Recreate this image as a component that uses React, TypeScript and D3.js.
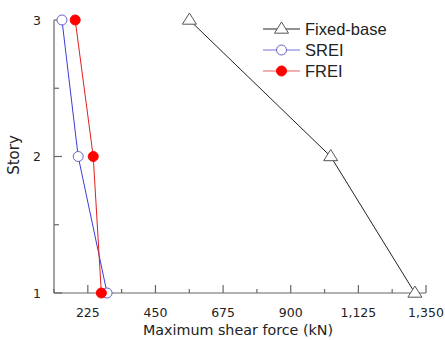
import React from 'react';
import * as d3 from 'd3';

const stories = [1, 2, 3];
const fixedBase = [1313, 1033, 563];
const srei = [289, 193, 139];
const frei = [270, 243, 183];
const xTicks = [225, 450, 675, 900, 1125, 1350];
const xMinorTicks = [112.5, 337.5, 562.5, 787.5, 1012.5, 1237.5];
const yTicks = [1, 2, 3];
const yMinorTicks = [1.5, 2.5];

const W = 445;
const H = 340;
const margin = { left: 54, right: 19, top: 20, bottom: 47 };

export default function App() {
  const x = d3.scaleLinear().domain([112.5, 1350]).range([margin.left, W - margin.right]);
  const y = d3.scaleLinear().domain([1, 3]).range([H - margin.bottom, margin.top]);
  const line = d3.line<[number, number]>().x(d => x(d[0])).y(d => y(d[1]));

  const series = [
    { name: 'Fixed-base', values: fixedBase, color: '#222', marker: 'tri' },
    { name: 'SREI', values: srei, color: '#3b3bd6', marker: 'open' },
    { name: 'FREI', values: frei, color: '#e0201e', marker: 'fill' },
  ];

  const axisColor = '#666';
  const axisFont = '"DejaVu Sans", Verdana, sans-serif';
  const x0 = x(112.5);
  const y0 = y(1);

  const marker = (type: string, cx: number, cy: number, color: string, key: string) => {
    if (type === 'tri') {
      const s = 7;
      return (
        <path key={key} d={`M${cx},${cy - s} L${cx + s},${cy + s * 0.6} L${cx - s},${cy + s * 0.6} Z`}
          fill="#fff" stroke="#555" strokeWidth={1} />
      );
    }
    if (type === 'open') {
      return <circle key={key} cx={cx} cy={cy} r={5} fill="#fff" stroke="#6464c8" strokeWidth={1} />;
    }
    return <circle key={key} cx={cx} cy={cy} r={5} fill="#f00" stroke="#f00" strokeWidth={1} />;
  };

  return (
    <svg width={W} height={H} style={{ position: 'absolute', left: 0, top: 0, background: '#fff' }}>
      {/* axes */}
      <line x1={x0} x2={x0} y1={y(3)} y2={y0} stroke={axisColor} strokeWidth={1.2} />
      <line x1={x0} x2={x(1350)} y1={y0} y2={y0} stroke={axisColor} strokeWidth={1.2} />
      {xTicks.map(t => (
        <g key={'xt' + t}>
          <line x1={x(t)} x2={x(t)} y1={y0} y2={y0 - 8} stroke={axisColor} strokeWidth={1.2} />
          <text x={x(t)} y={y0 + 24} textAnchor="middle" fontSize={12.5} fontFamily={axisFont} fill="#222">
            {d3.format(',')(t)}
          </text>
        </g>
      ))}
      {xMinorTicks.map(t => (
        <line key={'xm' + t} x1={x(t)} x2={x(t)} y1={y0} y2={y0 - 4} stroke={axisColor} strokeWidth={1.2} />
      ))}
      {yTicks.map(t => (
        <g key={'yt' + t}>
          <line x1={x0} x2={x0 + 8} y1={y(t)} y2={y(t)} stroke={axisColor} strokeWidth={1.2} />
          <text x={x0 - 13} y={y(t) + 4.5} textAnchor="end" fontSize={12.5} fontFamily={axisFont} fill="#222">
            {t}
          </text>
        </g>
      ))}
      {yMinorTicks.map(t => (
        <line key={'ym' + t} x1={x0} x2={x0 + 5} y1={y(t)} y2={y(t)} stroke={axisColor} strokeWidth={1.2} />
      ))}
      <text x={238} y={335} textAnchor="middle" fontSize={14.3} fontFamily={axisFont} fill="#222">
        Maximum shear force (kN)
      </text>
      <text transform={`translate(19,155) rotate(-90)`} textAnchor="middle" fontSize={15}
        fontFamily={axisFont} fill="#222">
        Story
      </text>

      {/* series */}
      {series.map(s => (
        <g key={s.name}>
          <path d={line(s.values.map((v, i) => [v, stories[i]] as [number, number])) || ''}
            fill="none" stroke={s.color} strokeWidth={1} />
          {s.values.map((v, i) => marker(s.marker, x(v), y(stories[i]), s.color, s.name + i))}
        </g>
      ))}

      {/* legend */}
      {series.map((s, i) => {
        const ly = 29 + i * 21;
        return (
          <g key={'lg' + s.name}>
            <line x1={263} x2={300} y1={ly} y2={ly} stroke={s.color}
              strokeWidth={1} opacity={s.marker === 'tri' ? 1 : 0.7} />
            {marker(s.marker, 281.5, ly, s.color, 'lm' + i)}
            <text x={305} y={ly + 6} fontSize={16.5} fontFamily='"Liberation Sans", Arial, sans-serif' fill="#222">
              {s.name}
            </text>
          </g>
        );
      })}
    </svg>
  );
}
